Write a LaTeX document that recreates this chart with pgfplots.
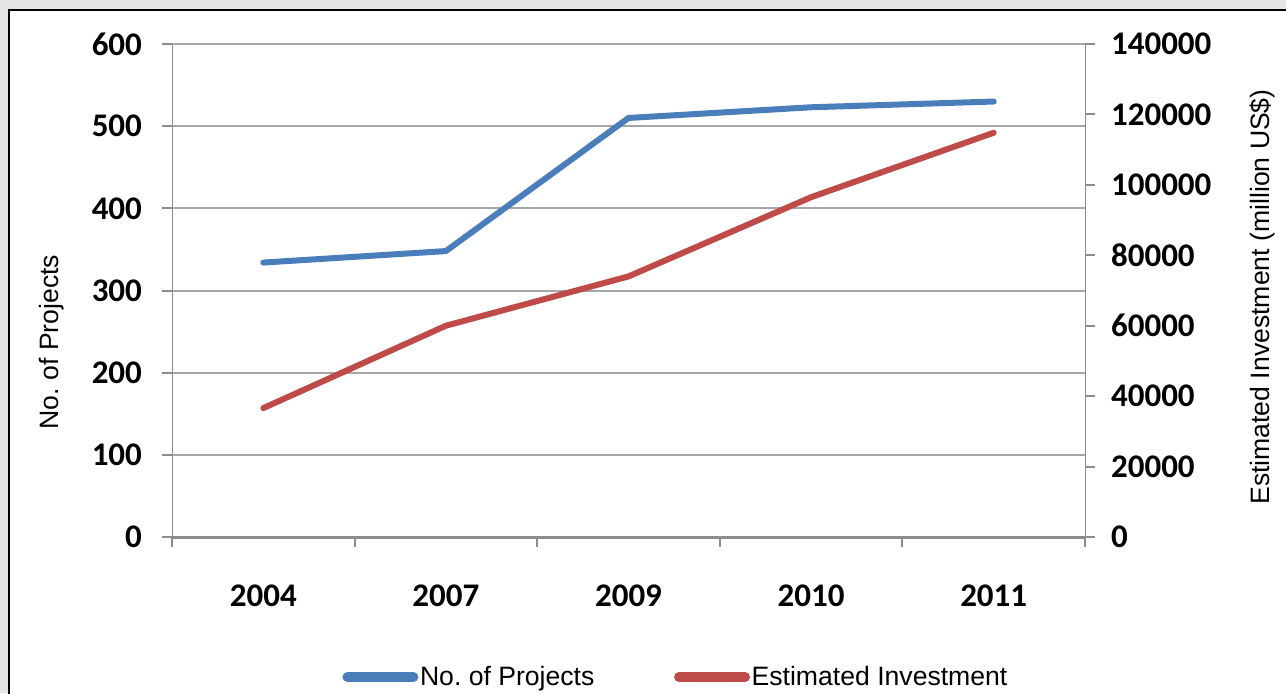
\documentclass[border=0pt]{standalone}
\usepackage{fontspec}
\setmainfont{Liberation Sans}
\newfontfamily\tickfont{Carlito}
\usepackage{pgfplots}
\pgfplotsset{compat=1.18}
\definecolor{blueline}{HTML}{4A7EBB}
\definecolor{redline}{HTML}{BE4B48}
\definecolor{axgray}{HTML}{8C8C8C}
\definecolor{gridgray}{HTML}{A6A6A6}
\definecolor{bggray}{HTML}{E6E6E6}
\pgfplotsset{
  common/.style={
    scale only axis, width=456.5pt, height=246.5pt,
    at={(86pt,78pt)}, anchor=south west,
    xmin=-0.5, xmax=4.5,
    ticklabel style={font=\tickfont\bfseries\fontsize{16.5}{17}\selectfont},
    /pgf/number format/fixed,
    /pgf/number format/assume math mode=true,
    /pgf/number format/1000 sep={},
    scaled y ticks=false,
    tick align=outside,
    major tick length=5pt,
    every tick/.style={axgray, line width=1pt},
    axis line style={axgray},
    clip=false,
  }
}
\begin{document}
\frenchspacing
\begin{tikzpicture}
\path[use as bounding box] (0,0) rectangle (643pt,346.5pt);
\clip (0,0) rectangle (643pt,346.5pt);
\fill[bggray] (0,0) rectangle (643pt,346.5pt);
\draw[fill=white, line width=1pt] (4.5pt,-10pt) rectangle (660pt,341.5pt);

\begin{axis}[common,
  axis x line*=bottom, axis y line*=left,
  x axis line style={line width=1.5pt},
  y axis line style={line width=0.5pt},
  ymin=0, ymax=600, ytick={0,100,...,600},
  yticklabel style={xshift=-6.5pt},
  ymajorgrids, grid style={gridgray, line width=1pt},
  xtick={-0.5,0.5,...,4.5}, xticklabels={},
  extra x ticks={0,1,2,3,4},
  extra x tick labels={2004,2007,2009,2010,2011},
  extra x tick style={major tick length=0pt, xticklabel style={yshift=-20.5pt}},
]
\addplot[blueline, line width=3pt, line join=round, line cap=round]
  coordinates {(0,334) (1,348) (2,510) (3,523) (4,530)};
\end{axis}

\begin{axis}[common,
  axis x line=none, axis y line*=right,
  y axis line style={line width=0.5pt},
  ymin=0, ymax=140000, ytick={0,20000,...,140000},
  yticklabel style={xshift=4.5pt},
  legend columns=2,
  legend style={at={(0.1862,-0.284)}, anchor=west, draw=none, fill=none,
    font=\fontsize{13.3}{16}\selectfont, inner sep=0pt,
    nodes={inner sep=0.8pt},
    /tikz/every even column/.append style={column sep=39pt}},
  legend cell align=left,
  legend image code/.code={\draw[#1] (0pt,0pt) -- (33pt,0pt);},
]
\addlegendimage{blueline, line width=5pt, line cap=round}
\addlegendentry{No. of Projects}
\addplot[redline, line width=3pt, line join=round, line cap=round, forget plot]
  coordinates {(0,36600) (1,60000) (2,74000) (3,96500) (4,114800)};
\addlegendimage{redline, line width=5pt, line cap=round}
\addlegendentry{Estimated Investment}
\end{axis}

\node[rotate=90, font=\fontsize{13.3}{16}\selectfont] at (26pt,175.5pt) {No. of Projects};
\node[rotate=90, font=\fontsize{13.3}{16}\selectfont] at (631pt,198pt) {Estimated Investment (million US\$)};
\end{tikzpicture}
\end{document}
